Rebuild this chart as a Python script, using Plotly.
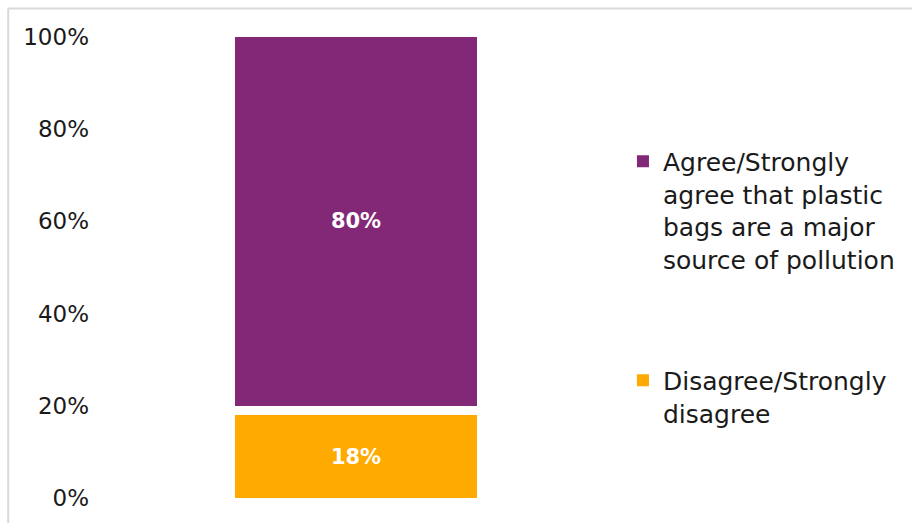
import plotly.graph_objects as go

# Survey result: share of respondents, single stacked column
category = ["Plastic bags"]
disagree = [18]
no_answer = [2]
agree = [80]

series_names = [
    "Agree/Strongly<br>agree that plastic<br>bags are a major<br>source of pollution",
    "Disagree/Strongly<br>disagree",
]
y_ticks = [0, 20, 40, 60, 80, 100]
y_tick_labels = ["0%", "20%", "40%", "60%", "80%", "100%"]

PURPLE = "#832876"
ORANGE = "#FFAA00"
FONT = "DejaVu Sans"

W, H = 912, 523
ML, MR, MT, MB = 110, 309, 37, 23
PW, PH = W - ML - MR, H - MT - MB


def px_x(px):
    return (px - ML) / PW


def px_y(py):
    return (H - MB - py) / PH


def pct_labels(values):
    return [f"{v}%" for v in values]


label_font = dict(family=FONT, size=21, color="white", weight="bold")

fig = go.Figure()

fig.add_trace(go.Bar(
    x=category, y=disagree, name=series_names[1],
    marker=dict(color=ORANGE, line=dict(width=0)),
    text=pct_labels(disagree), texttemplate="%{text}",
    textposition="inside", insidetextanchor="middle", textfont=label_font,
    legend="legend2",
))
fig.add_trace(go.Bar(
    x=category, y=no_answer, name="No answer",
    marker=dict(color="rgba(0,0,0,0)", line=dict(width=0)),
    showlegend=False, hoverinfo="skip",
))
fig.add_trace(go.Bar(
    x=category, y=agree, name=series_names[0],
    marker=dict(color=PURPLE, line=dict(width=0)),
    text=pct_labels(agree), texttemplate="%{text}",
    textposition="inside", insidetextanchor="middle", textfont=label_font,
    legend="legend",
))

legend_font = dict(family=FONT, size=25, color="#1a1a1a")

fig.update_layout(
    width=W, height=H,
    margin=dict(l=ML, r=MR, t=MT, b=MB),
    paper_bgcolor="white", plot_bgcolor="white",
    barmode="stack", bargap=0.507,
    font=dict(family=FONT, color="#1a1a1a"),
    xaxis=dict(showticklabels=False, showline=False, showgrid=False, zeroline=False),
    yaxis=dict(
        range=[0, 100], tickvals=y_ticks, ticktext=y_tick_labels,
        showgrid=False, zeroline=False, showline=False,
        tickfont=dict(family=FONT, size=23, color="#1a1a1a"),
        ticklabelstandoff=20,
    ),
    legend=dict(
        x=px_x(624), y=px_y(139), xanchor="left", yanchor="top",
        font=legend_font, valign="top", bgcolor="rgba(0,0,0,0)",
        itemwidth=30,
    ),
    legend2=dict(
        x=px_x(624), y=px_y(359), xanchor="left", yanchor="top",
        font=legend_font, valign="top", bgcolor="rgba(0,0,0,0)",
        itemwidth=30,
    ),
    showlegend=True,
)

# Light grey chart frame along the top and left edges
frame = dict(color="#D9D9D9", width=2)
fig.add_shape(type="line", xref="paper", yref="paper",
              x0=px_x(8), x1=px_x(W + 5), y0=px_y(8.5), y1=px_y(8.5), line=frame)
fig.add_shape(type="line", xref="paper", yref="paper",
              x0=px_x(8), x1=px_x(8), y0=px_y(8.5), y1=px_y(H + 5), line=frame)

fig.write_html("out.html")
